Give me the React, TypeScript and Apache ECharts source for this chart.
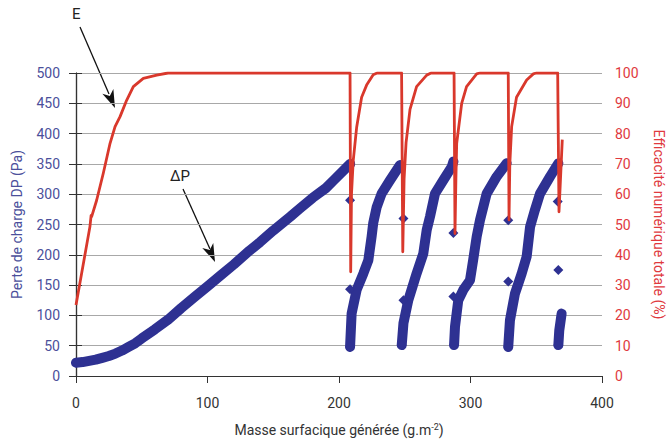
import React, { useEffect, useRef } from "react";
import * as echarts from "echarts";

// Pressure drop ΔP (Pa) vs generated surface mass, one run per loading cycle
const dpCycle1: [number, number][] = [
  [0, 22], [5, 23], [10, 25], [15, 27], [20, 30], [25, 33], [30, 37], [35, 42],
  [40, 48], [45, 54], [50, 62], [60, 77], [70, 93], [80, 112], [90, 130],
  [100, 148], [110, 166], [120, 184], [132, 207], [140, 221], [150, 240],
  [163, 263], [170, 276], [180, 294], [190, 310], [196, 323], [208.5, 350],
];
const dpCycle2: [number, number][] = [
  [208.4, 48], [209.6, 103], [213.4, 142], [218.5, 169], [222.3, 191],
  [224.8, 230], [226, 252], [228.7, 279], [232.4, 301], [238.8, 323], [246.4, 348],
];
const dpCycle3: [number, number][] = [
  [247.7, 51], [249, 87], [252.7, 125], [259, 169], [264.1, 202], [266.7, 241],
  [269.2, 263], [273, 301], [279.3, 323], [285.7, 345], [287, 354],
];
const dpCycle4: [number, number][] = [
  [287.5, 51], [288.2, 81], [290.7, 125], [294.5, 142], [299.6, 158], [302, 191],
  [304.7, 230], [307.2, 257], [312.3, 301], [319.9, 329], [327.5, 351],
];
const dpCycle5: [number, number][] = [
  [328.7, 48], [330, 92], [333.8, 136], [338.9, 169], [342.7, 197], [345.3, 246],
  [349, 274], [352.9, 301], [360.5, 329], [366.8, 351],
];
const dpCycle6: [number, number][] = [
  [366.8, 51], [367.5, 75], [369.3, 103],
];
// isolated ΔP readings during filter cleaning
const dpIsolated: [number, number][] = [
  [208.4, 290], [208.4, 143], [208.4, 48], [249, 125], [249, 260], [247.7, 51],
  [287, 131], [287, 236], [287.5, 51], [328.7, 156], [328.7, 257], [328.7, 48],
  [366.8, 175], [366.3, 288], [366.8, 51], [0, 22],
];

// Total number efficiency E (%)
const effMass = [
  0, 10.6, 11.5, 11.9, 15.7, 20.8, 25.9, 29.7, 33.5, 38.5, 43.6, 51.2, 61.4, 70,
  208.4, 208.9, 209.5, 210.8, 213.4, 217.2, 221, 226, 229,
  247.6, 248.5, 249.5, 251, 254, 259, 266.7, 270,
  287.5, 288.2, 288.9, 289.5, 293.3, 297, 304.7, 307,
  328.7, 329.3, 329.9, 331.3, 335, 342.7, 347.8, 350,
  366.3, 367.3, 369.8,
];
const effValue = [
  23.4, 49.3, 53, 52.6, 58, 67, 76.8, 82.3, 85.6, 91, 95.5, 98.2, 99.3, 100,
  100, 34.4, 60, 71, 82, 92, 96, 99.4, 100,
  100, 41, 65, 77, 88, 95.5, 99.3, 100,
  100, 47, 65, 76.8, 90, 95.5, 99.7, 100,
  100, 51.5, 70, 82.3, 92, 97.7, 99.7, 100,
  100, 54.2, 78,
];

const massTicks = { min: 0, max: 400, interval: 100 };
const dpTicks = { min: 0, max: 500, interval: 50 };
const effTicks = { min: 0, max: 100, interval: 10 };

const BLUE = "#2e3192";
const RED = "#d9382c";
const FONT = "Roboto";

function arrowHead(tip: [number, number], from: [number, number]) {
  const dx = tip[0] - from[0];
  const dy = tip[1] - from[1];
  const len = Math.hypot(dx, dy);
  const ux = dx / len, uy = dy / len;
  const px = -uy, py = ux;
  const L = 18, W = 6, N = 13;
  return [
    tip,
    [tip[0] - L * ux + W * px, tip[1] - L * uy + W * py],
    [tip[0] - N * ux, tip[1] - N * uy],
    [tip[0] - L * ux - W * px, tip[1] - L * uy - W * py],
  ];
}

export default function App() {
  const ref = useRef<HTMLDivElement>(null);

  useEffect(() => {
    if (!ref.current) return;
    const chart = echarts.init(ref.current, undefined, { renderer: "svg" });

    const cycles = [dpCycle1, dpCycle2, dpCycle3, dpCycle4, dpCycle5, dpCycle6];
    const dpSeries = cycles.map((c) => ({
      type: "line",
      yAxisIndex: 0,
      data: c,
      symbol: "none",
      lineStyle: { color: BLUE, width: 10, cap: "round", join: "round" },
      z: 2,
    }));

    const eArrowFrom: [number, number] = [80, 27];
    const eArrowTip: [number, number] = [115, 108];
    const dpArrowFrom: [number, number] = [183, 189];
    const dpArrowTip: [number, number] = [215, 262];

    chart.setOption({
      animation: false,
      textStyle: { fontFamily: FONT },
      grid: { left: 76, right: 65, top: 73, bottom: 65, containLabel: false, outerBoundsMode: "none" },
      xAxis: [
        {
          type: "value",
          ...massTicks,
          name: "Masse surfacique générée (g.m{sup|-2})",
          nameLocation: "middle",
          nameGap: 46,
          nameTextStyle: {
            color: "#333",
            fontSize: 14,
            fontFamily: FONT,
            rich: {
              sup: { fontSize: 9, fontFamily: FONT, color: "#333", verticalAlign: "top", padding: [0, 0, 7, 0] },
            },
          },
          axisLine: { show: true, onZero: false, lineStyle: { color: "#333", width: 1.2 } },
          axisTick: { show: true, inside: false, length: 7, lineStyle: { color: "#333" } },
          axisLabel: { color: "#333", fontSize: 14, margin: 20, fontFamily: FONT },
          splitLine: { show: false },
        },
        {
          type: "value",
          position: "top",
          ...massTicks,
          axisLine: { show: true, lineStyle: { color: "#333", width: 1.2 } },
          axisTick: { show: false },
          axisLabel: { show: false },
          splitLine: { show: false },
        },
      ],
      yAxis: [
        {
          type: "value",
          position: "left",
          ...dpTicks,
          name: "Perte de charge DP (Pa)",
          nameLocation: "middle",
          nameGap: 52,
          nameTextStyle: { color: "#4b4f9b", fontSize: 14, fontFamily: FONT },
          axisLine: { show: true, onZero: false, lineStyle: { color: "#444", width: 1.2 } },
          axisTick: { show: true, length: 7, lineStyle: { color: "#333" } },
          axisLabel: { color: "#4b4f9b", fontSize: 14, margin: 16, fontFamily: FONT },
          splitLine: { show: true, lineStyle: { color: "#a8a8a8", width: 1.2 } },
        },
        {
          type: "value",
          position: "right",
          ...effTicks,
          name: "Efficacité numérique totale (%)",
          nameLocation: "middle",
          nameRotate: -90,
          nameGap: 50,
          nameTextStyle: { color: "#e0393e", fontSize: 14, fontFamily: FONT },
          axisLine: { show: true, lineStyle: { color: "#333", width: 1.2 } },
          axisTick: { show: true, length: 6, lineStyle: { color: "#333" } },
          axisLabel: { color: "#e0393e", fontSize: 14, margin: 13, fontFamily: FONT },
          splitLine: { show: false },
        },
      ],
      series: [
        ...dpSeries,
        {
          type: "scatter",
          yAxisIndex: 0,
          data: dpIsolated,
          symbol: "diamond",
          symbolSize: 10,
          itemStyle: { color: BLUE, opacity: 1 },
          z: 3,
        },
        {
          type: "line",
          yAxisIndex: 1,
          data: effMass.map((m, i) => [m, effValue[i]]),
          symbol: "none",
          lineStyle: { color: RED, width: 2.8, join: "round" },
          z: 4,
        },
      ],
      graphic: [
        { type: "text", left: 72, top: 6, style: { text: "E", fontSize: 15, fontFamily: FONT, fill: "#222" } },
        {
          type: "line",
          shape: { x1: eArrowFrom[0], y1: eArrowFrom[1], x2: eArrowTip[0] - 6, y2: eArrowTip[1] - 14 },
          style: { stroke: "#111", lineWidth: 1.3 },
        },
        { type: "polygon", shape: { points: arrowHead(eArrowTip, eArrowFrom) }, style: { fill: "#111" } },
        { type: "text", left: 170, top: 168, style: { text: "ΔP", fontSize: 15, fontFamily: FONT, fill: "#222" } },
        {
          type: "line",
          shape: { x1: dpArrowFrom[0], y1: dpArrowFrom[1], x2: dpArrowTip[0] - 5, y2: dpArrowTip[1] - 13 },
          style: { stroke: "#111", lineWidth: 1.3 },
        },
        { type: "polygon", shape: { points: arrowHead(dpArrowTip, dpArrowFrom) }, style: { fill: "#111" } },
      ],
    });

    return () => chart.dispose();
  }, []);

  return (
    <div
      ref={ref}
      style={{ position: "fixed", left: 0, top: 0, width: 667, height: 441, background: "#fff" }}
    />
  );
}
